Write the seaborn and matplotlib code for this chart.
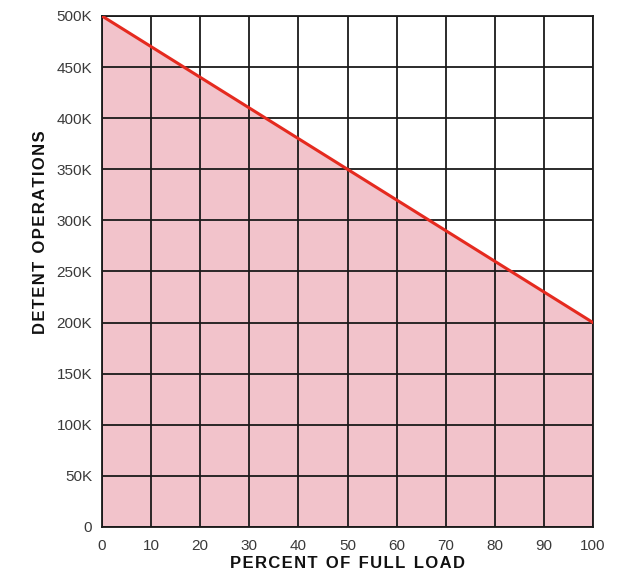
import numpy as np
import pandas as pd
import matplotlib
matplotlib.use("Agg")
import matplotlib.pyplot as plt
import seaborn as sns

# data
percent_load = [0, 100]
detent_ops = [500000, 200000]
x_ticks = [0, 10, 20, 30, 40, 50, 60, 70, 80, 90, 100]
y_ticks = [0, 50000, 100000, 150000, 200000, 250000, 300000, 350000, 400000, 450000, 500000]
y_tick_labels = ["0", "50K", "100K", "150K", "200K", "250K", "300K", "350K", "400K", "450K", "500K"]


def spaced(text):
    # rough letter spacing for the printed-look axis titles
    return "\u2002".join("\u200a".join(w) for w in text.split(" "))


sns.set_theme(style="white")
plt.rcParams["font.family"] = ["Liberation Sans", "DejaVu Sans"]

df = pd.DataFrame({"percent": percent_load, "ops": detent_ops})

fig = plt.figure(figsize=(6.32, 5.75), dpi=100)
ax = fig.add_axes([0.1614, 0.0835, 0.7769, 0.8887])

ax.fill_between(df["percent"], df["ops"], 0, color="#f2c3cb", zorder=1, linewidth=0)
sns.lineplot(data=df, x="percent", y="ops", ax=ax, color="#e52a1f", linewidth=2.2, zorder=3)

ax.set_xlim(0, 100)
ax.set_ylim(0, 500000)
ax.set_xticks(x_ticks)
ax.set_yticks(y_ticks)
ax.set_yticklabels(y_tick_labels)
ax.grid(True, color="#1a1a1a", linewidth=1.3, zorder=2)
ax.set_axisbelow(False)
for s in ax.spines.values():
    s.set_color("#1a1a1a")
    s.set_linewidth(1.3)

ax.tick_params(axis="both", length=0, labelsize=11, labelcolor="#3a3a3a")
ax.tick_params(axis="y", pad=7)
ax.tick_params(axis="x", pad=9)

ax.set_xlabel(spaced("PERCENT OF FULL LOAD"), fontsize=12, fontweight="bold",
              color="#111111", labelpad=2)
ax.set_ylabel(spaced("DETENT OPERATIONS"), fontsize=12, fontweight="bold", color="#111111")
ax.yaxis.set_label_coords(-0.11, 0.577)

fig.savefig("out.png", dpi=100)
